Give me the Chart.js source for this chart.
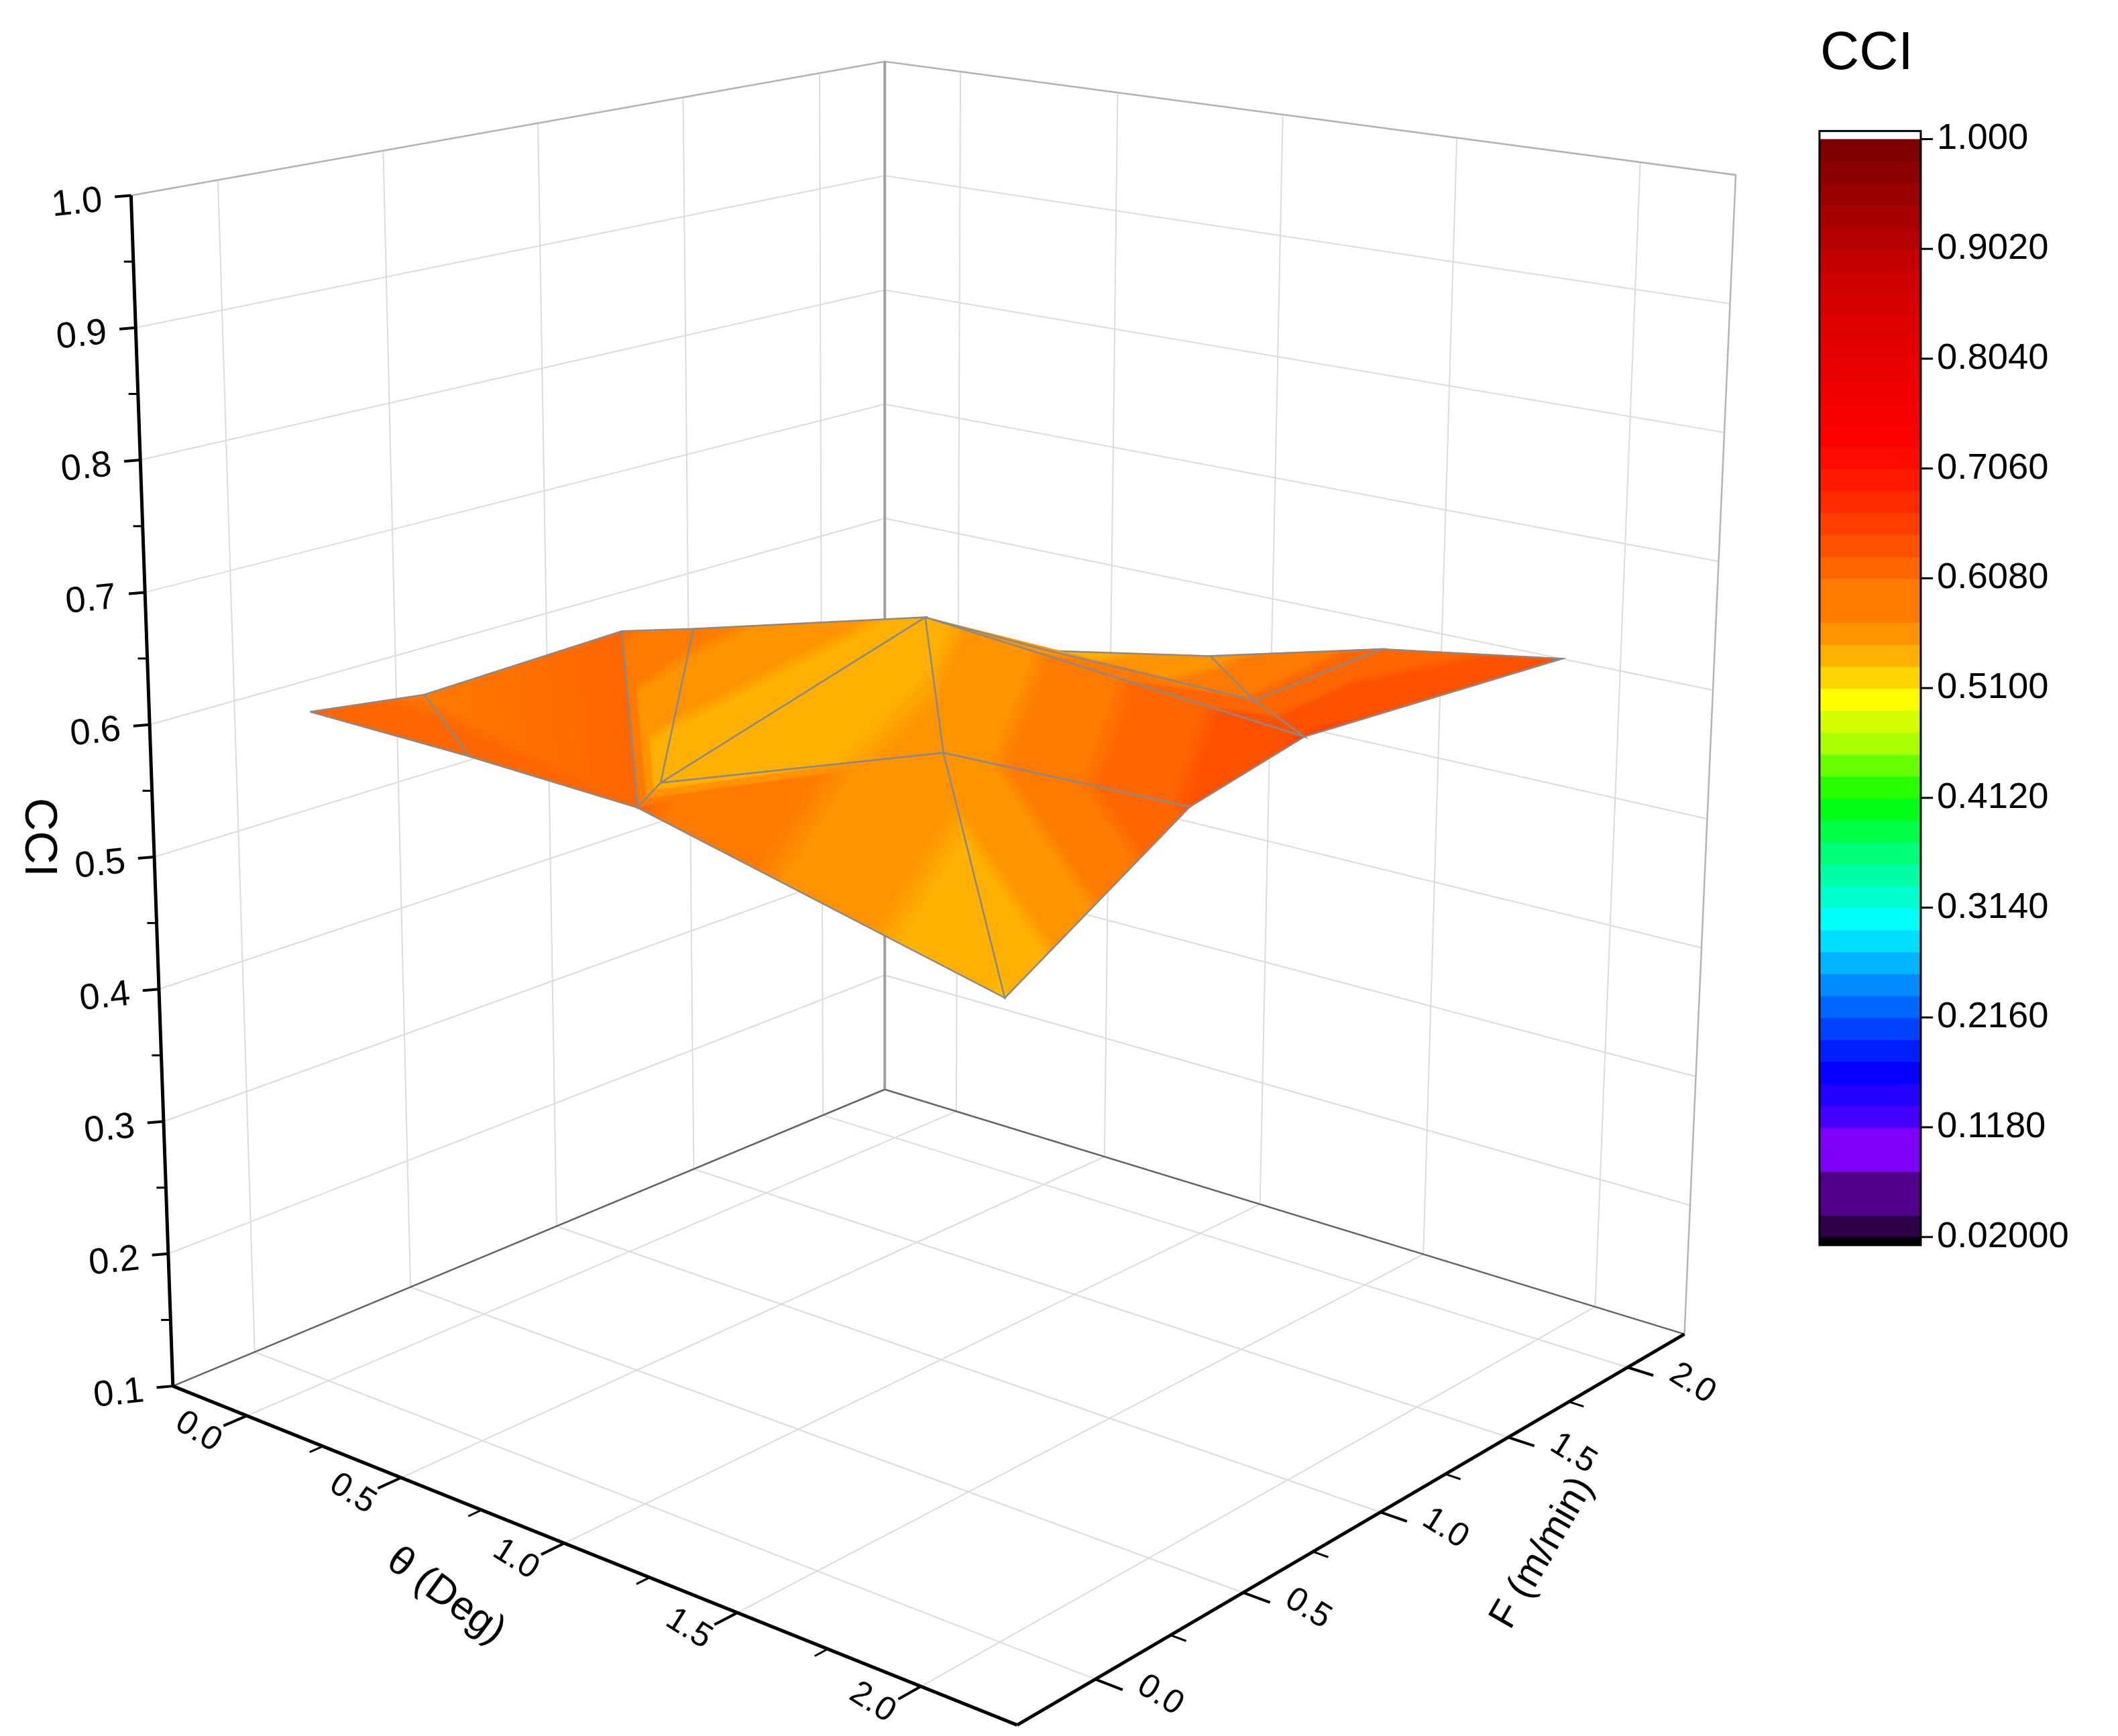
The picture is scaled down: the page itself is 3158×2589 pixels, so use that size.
<!DOCTYPE html>
<html>
<head>
<meta charset="utf-8">
<script src="https://cdn.jsdelivr.net/npm/chart.js@4.4.0/dist/chart.umd.min.js"></script>
<style>
  body { margin: 0; background: #fff; }
  #wrap { width: 3158px; height: 2589px; }
</style>
</head>
<body>
<div id="wrap"><canvas id="chart"></canvas></div>
<script>
// surface vertices (θ in Deg, F in m/min, CCI)
const theta = [0, 0, 0, 0, 0.1, 0.5, 1, 1.5, 2, 1.5, 2, 2, 1, 0.5, 1, 0.5, 2];
const feed  = [0, 0.35, 1, 1.25, 2, 2, 2, 2, 2, 1.5, 1, 0.6, 1, 0.6, 0, 0, 0];
const cci   = [0.607, 0.595, 0.600, 0.585, 0.550, 0.545, 0.570, 0.605, 0.627, 0.600, 0.640, 0.620, 0.565, 0.540, 0.600, 0.605, 0.537];
// mesh faces (vertex indices)
const faces = [
  [0, 1, 15], [1, 2, 14, 15], [2, 3, 13, 14], [3, 4, 13], [13, 4, 12], [14, 13, 12, 16],
  [12, 11, 16], [4, 10, 11, 12], [4, 5, 9, 10], [5, 6, 9], [6, 7, 9], [7, 8, 10, 9]
];

// axis ticks
const thetaTicks = [0, 0.5, 1, 1.5, 2];
const feedTicks = [0, 0.5, 1, 1.5, 2];
const cciTicks = [0.1, 0.2, 0.3, 0.4, 0.5, 0.6, 0.7, 0.8, 0.9, 1.0];
const barTicks = [1.0, 0.902, 0.804, 0.706, 0.608, 0.51, 0.412, 0.314, 0.216, 0.118, 0.02];
const barLabels = ['1.000', '0.9020', '0.8040', '0.7060', '0.6080', '0.5100', '0.4120', '0.3140', '0.2160', '0.1180', '0.02000'];

// colour map
const cmapStops = [
  [0.02, [0, 0, 0]], [0.05, [70, 0, 110]], [0.10, [128, 0, 255]], [0.18, [0, 0, 255]],
  [0.25, [0, 128, 255]], [0.31, [0, 255, 255]], [0.37, [0, 255, 128]], [0.42, [0, 255, 0]],
  [0.47, [170, 255, 0]], [0.51, [255, 255, 0]], [0.54, [255, 190, 0]], [0.58, [255, 130, 0]],
  [0.63, [255, 80, 0]], [0.68, [255, 30, 0]], [0.72, [255, 0, 0]], [0.86, [210, 0, 0]], [1.0, [112, 0, 0]]
];
function cmap(v) {
  v = Math.max(0.02, Math.min(1, v));
  v = 0.02 + Math.round((v - 0.02) / 0.0196) * 0.0196; // banded levels
  for (let i = 1; i < cmapStops.length; i++) {
    const [v1, c1] = cmapStops[i];
    const [v0, c0] = cmapStops[i - 1];
    if (v <= v1) {
      const k = (v - v0) / (v1 - v0);
      const c = c0.map((a, j) => Math.round(a + (c1[j] - a) * k));
      return `rgb(${c[0]},${c[1]},${c[2]})`;
    }
  }
  return 'rgb(112,0,0)';
}

// 3D box -> page projection (page units 1568 x 1270)
const TH = [-0.25, 2.25], FF = [-0.25, 2.25], ZZ = [0.1, 1.0];
function homography(p) {
  const [x0, y0] = p[0], [x1, y1] = p[1], [x2, y2] = p[2], [x3, y3] = p[3];
  const dx1 = x1 - x2, dx2 = x3 - x2, dx3 = x0 - x1 + x2 - x3;
  const dy1 = y1 - y2, dy2 = y3 - y2, dy3 = y0 - y1 + y2 - y3;
  const den = dx1 * dy2 - dx2 * dy1;
  const g = (dx3 * dy2 - dx2 * dy3) / den, h = (dx1 * dy3 - dx3 * dy1) / den;
  const a = x1 - x0 + g * x1, b = x3 - x0 + h * x3, d = y1 - y0 + g * y1, e = y3 - y0 + h * y3;
  return (u, v) => {
    const w = g * u + h * v + 1;
    return [(a * u + b * v + x0) / w, (d * u + e * v + y0) / w];
  };
}
const floorH = homography([[128, 1014], [753, 1262], [1247, 976], [655, 797]]);
const roofH = homography([[97, 143], [762, 259], [1285, 128], [655, 45]]);
function P(t, f, z) {
  const s = (t - TH[0]) / (TH[1] - TH[0]);
  const u = (f - FF[0]) / (FF[1] - FF[0]);
  const w = (z - ZZ[0]) / (ZZ[1] - ZZ[0]);
  const a = floorH(s, u), b = roofH(s, u);
  return { x: a[0] + (b[0] - a[0]) * w, y: a[1] + (b[1] - a[1]) * w };
}

const datasets = [];
let seq = 0;
function addLine(pts, color, width) {
  datasets.push({
    data: pts, borderColor: color, borderWidth: width, pointRadius: 0,
    fill: false, tension: 0, order: -(seq++)
  });
}

// back walls and floor grid
const gridCol = '#dcdcdc';
cciTicks.forEach(z => {
  addLine([P(TH[0], FF[0], z), P(TH[0], FF[1], z), P(TH[1], FF[1], z)], gridCol, 2);
});
feedTicks.forEach(f => {
  addLine([P(TH[0], f, ZZ[0]), P(TH[0], f, ZZ[1])], gridCol, 2);
  addLine([P(TH[0], f, ZZ[0]), P(TH[1], f, ZZ[0])], gridCol, 2);
});
thetaTicks.forEach(t => {
  addLine([P(t, FF[1], ZZ[0]), P(t, FF[1], ZZ[1])], gridCol, 2);
  addLine([P(t, FF[0], ZZ[0]), P(t, FF[1], ZZ[0])], gridCol, 2);
});
// box edges
const edgeCol = '#b4b4b4';
addLine([P(TH[0], FF[0], ZZ[1]), P(TH[0], FF[1], ZZ[1]), P(TH[1], FF[1], ZZ[1]), P(TH[1], FF[1], ZZ[0])], edgeCol, 2.5);
addLine([P(TH[0], FF[1], ZZ[0]), P(TH[0], FF[1], ZZ[1])], '#a0a0a0', 4);
addLine([P(TH[0], FF[1], ZZ[0]), P(TH[1], FF[1], ZZ[0])], '#666', 2.5);
addLine([P(TH[0], FF[0], ZZ[0]), P(TH[0], FF[1], ZZ[0])], '#666', 2.5);
// main axes
addLine([P(TH[0], FF[0], ZZ[0]), P(TH[0], FF[0], ZZ[1])], '#000', 5);
addLine([P(TH[0], FF[0], ZZ[0]), P(TH[1], FF[0], ZZ[0])], '#000', 5);
addLine([P(TH[1], FF[0], ZZ[0]), P(TH[1], FF[1], ZZ[0])], '#000', 5);

// surface faces, far to near; each face filled as triangles, then outlined
const faceOrder = faces.map((f, i) => i).sort((a, b) => {
  const d = i => faces[i].reduce((s, k) => s + theta[k] - feed[k], 0) / faces[i].length;
  return d(a) - d(b);
});
faceOrder.forEach(i => {
  const idx = faces[i];
  for (let j = 1; j < idx.length - 1; j++) {
    const tri = [idx[0], idx[j], idx[j + 1]];
    const pts = tri.map(k => P(theta[k], feed[k], cci[k]));
    pts.push(pts[0]);
    datasets.push({
      data: pts, pointRadius: 0, tension: 0, fill: 'shape', order: -(seq++), borderWidth: 1.5,
      backgroundColor: ctx => faceFill(ctx.chart, tri),
      borderColor: ctx => faceFill(ctx.chart, tri)
    });
  }
  const pts = idx.map(k => P(theta[k], feed[k], cci[k]));
  pts.push(pts[0]);
  addLine(pts, '#8a8a8a', 2.5);
});

function faceFill(chart, tri) {
  const sx = chart.scales.x, sy = chart.scales.y;
  if (!sx || !chart.chartArea) return cmap(0.6);
  const q = tri.map(k => {
    const p = P(theta[k], feed[k], cci[k]);
    return [sx.getPixelForValue(p.x), sy.getPixelForValue(p.y), cci[k]];
  });
  const [x0, y0, z0] = q[0], [x1, y1, z1] = q[1], [x2, y2, z2] = q[2];
  const det = (x1 - x0) * (y2 - y0) - (x2 - x0) * (y1 - y0);
  if (Math.abs(det) < 1e-6) return cmap(z0);
  const a = ((z1 - z0) * (y2 - y0) - (z2 - z0) * (y1 - y0)) / det;
  const b = ((x1 - x0) * (z2 - z0) - (x2 - x0) * (z1 - z0)) / det;
  const g2 = a * a + b * b;
  if (g2 < 1e-14) return cmap(z0);
  const lo = 0.4, hi = 0.8;
  const grad = chart.ctx.createLinearGradient(
    x0 + a * (lo - z0) / g2, y0 + b * (lo - z0) / g2,
    x0 + a * (hi - z0) / g2, y0 + b * (hi - z0) / g2);
  for (let i = 0; i <= 80; i++) grad.addColorStop(i / 80, cmap(lo + (hi - lo) * i / 80));
  return grad;
}

// labels, ticks and colour bar
const FONT = '"Liberation Sans", Arial, sans-serif';
const decor = {
  id: 'decor',
  afterDatasetsDraw(chart) {
    const c = chart.ctx, sx = chart.scales.x, sy = chart.scales.y;
    const px = p => [sx.getPixelForValue(p.x), sy.getPixelForValue(p.y)];
    const S = sx.getPixelForValue(1) - sx.getPixelForValue(0);
    const seg = (a, b, w) => { c.beginPath(); c.moveTo(a[0], a[1]); c.lineTo(b[0], b[1]); c.lineWidth = w; c.strokeStyle = '#000'; c.stroke(); };
    const txt = (s, x, y, rot, size, align) => {
      c.save(); c.translate(x, y); c.rotate(rot * Math.PI / 180);
      c.font = `${size * S}px ${FONT}`; c.fillStyle = '#000';
      c.textAlign = align || 'center'; c.textBaseline = 'middle';
      c.fillText(s, 0, 0); c.restore();
    };
    // z ticks
    cciTicks.forEach((z, i) => {
      const p = px(P(TH[0], FF[0], z));
      seg(p, [p[0] - 12 * S, p[1] + 1 * S], 4);
      if (i < cciTicks.length - 1) {
        const m = px(P(TH[0], FF[0], z + 0.05));
        seg(m, [m[0] - 7 * S, m[1]], 3);
      }
      txt(z.toFixed(1), p[0] - 40 * S, p[1] + 6 * S, -6, 27);
    });
    // θ ticks
    thetaTicks.forEach((t, i) => {
      const p = px(P(t, FF[0], ZZ[0]));
      seg(p, px(P(t, FF[0] - 0.07, ZZ[0])), 4);
      if (i < thetaTicks.length - 1) {
        const m = px(P(t + 0.25, FF[0], ZZ[0]));
        seg(m, px(P(t + 0.25, FF[0] - 0.04, ZZ[0])), 3);
      }
      txt(t.toFixed(1), p[0] - 36 * S, p[1] + 12 * S, 32, 25);
    });
    // F ticks
    feedTicks.forEach((f, i) => {
      const p = px(P(TH[1], f, ZZ[0]));
      seg(p, px(P(TH[1] + 0.07, f, ZZ[0])), 4);
      if (i < feedTicks.length - 1) {
        const m = px(P(TH[1], f + 0.25, ZZ[0]));
        seg(m, px(P(TH[1] + 0.04, f + 0.25, ZZ[0])), 3);
      }
      txt(f.toFixed(1), p[0] + 48 * S, p[1] + 12 * S, 32, 25);
    });
    // axis titles
    txt('CCI', 28 * S, 620 * S, 90, 34);
    txt('θ (Deg)', 330 * S, 1182 * S, 36, 30);
    txt('F (m/min)', 1142 * S, 1150 * S, -60, 29);
    // colour bar
    const bx0 = 1347 * S, bx1 = 1422 * S, yTop = 103 * S, yBot = 916 * S;
    const yOf = v => yBot + (yTop - yBot) * (v - 0.02) / 0.98;
    for (let v = 0.02; v < 1 - 1e-9; v += 0.0196) {
      c.fillStyle = cmap(v + 0.0098);
      c.fillRect(bx0, yOf(v + 0.0196), bx1 - bx0, yOf(v) - yOf(v + 0.0196) + 1);
    }
    c.fillStyle = '#000';
    c.fillRect(bx0, yBot, bx1 - bx0, 922 * S - yBot);
    c.lineWidth = 3; c.strokeStyle = '#000';
    c.strokeRect(bx0, 97 * S, bx1 - bx0, 825 * S);
    barTicks.forEach((v, i) => {
      const y = yOf(v);
      seg([bx1, y], [bx1 + 9 * S, y], 3);
      txt(barLabels[i], bx1 + 12 * S, y, 0, 27, 'left');
    });
    txt('CCI', 1382 * S, 40 * S, 0, 40);
  }
};

new Chart(document.getElementById('chart'), {
  type: 'line',
  data: { datasets },
  options: {
    responsive: true, maintainAspectRatio: false, animation: false, devicePixelRatio: 1,
    layout: { padding: 0 },
    plugins: { legend: { display: false }, tooltip: { enabled: false } },
    scales: {
      x: { type: 'linear', min: 0, max: 1568, display: false },
      y: { type: 'linear', min: 0, max: 1270, reverse: true, display: false }
    }
  },
  plugins: [decor]
});
</script>
</body>
</html>
